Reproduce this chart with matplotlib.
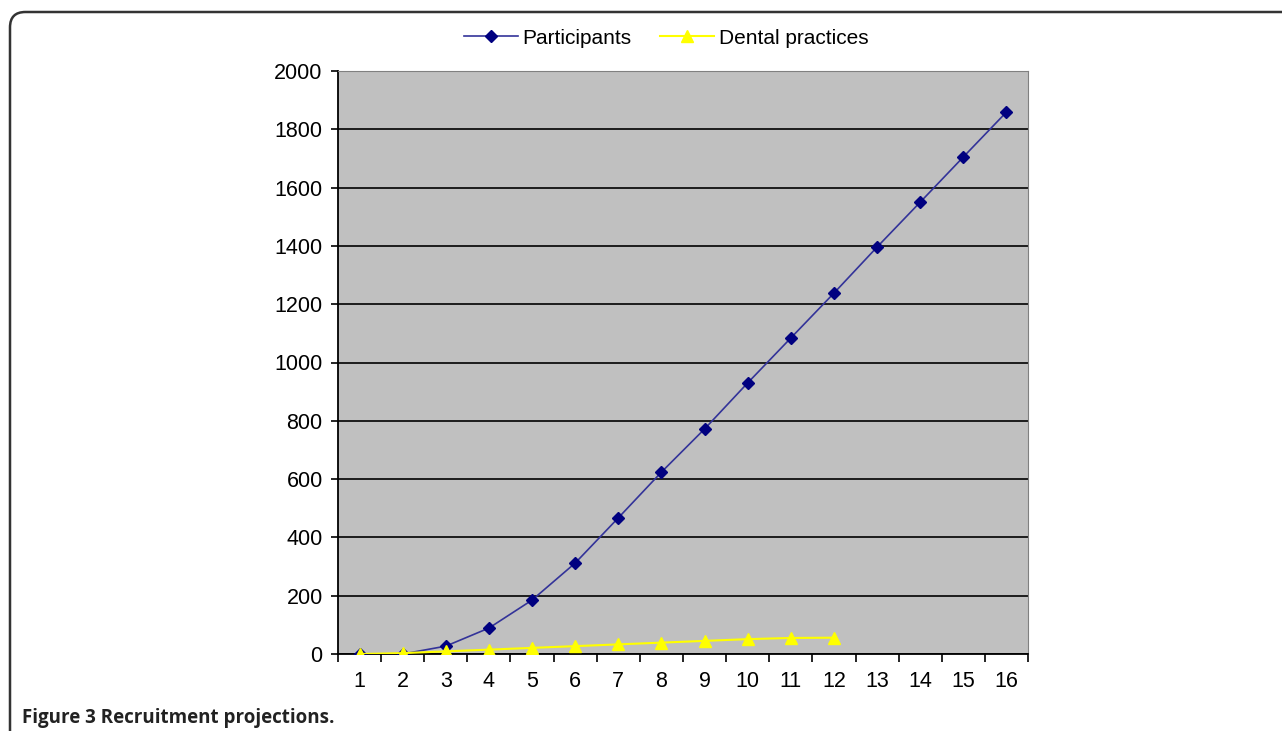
import matplotlib
matplotlib.use("Agg")
import matplotlib.pyplot as plt
from matplotlib.patches import FancyBboxPatch
from matplotlib.ticker import FixedLocator, NullFormatter

months = list(range(1, 17))
participants = [0, 0, 27, 89, 185, 312, 467, 624, 772, 930, 1084, 1238, 1396, 1550, 1705, 1859]
practice_months = list(range(1, 13))
practices = [0, 3, 9, 15, 21, 27, 33, 39, 45, 51, 55, 56]

plt.rcParams['font.family'] = ['Liberation Sans', 'DejaVu Sans']

fig = plt.figure(figsize=(12.82, 7.31), dpi=100)

# rounded frame around the figure
frame = FancyBboxPatch((10 / 1282, -0.1), 1.2, (731 - 12) / 731 + 0.1,
                       boxstyle="round,pad=0,rounding_size=0.012",
                       transform=fig.transFigure, fill=False,
                       edgecolor='#333333', linewidth=1.8, mutation_aspect=1282 / 731)
fig.patches.append(frame)

ax = fig.add_axes([338 / 1282, 1 - 654 / 731, 690 / 1282, 583 / 731])
ax.set_facecolor('#C0C0C0')

ax.plot(months, participants, color='#333399', linewidth=1.2, marker='D',
        markersize=6.5, markerfacecolor='#000080', markeredgecolor='#000080',
        label='Participants', zorder=3)
ax.plot(practice_months, practices, color='#FFFF00', linewidth=1.5, marker='^',
        markersize=9, markerfacecolor='#FFFF00', markeredgecolor='#FFFF00',
        label='Dental practices', zorder=3)

ax.set_xlim(0.5, 16.5)
ax.set_ylim(0, 2000)
ax.set_yticks(range(0, 2001, 200))
ax.yaxis.grid(True, color='black', linewidth=1.2)
ax.set_axisbelow(True)

ax.xaxis.set_major_locator(FixedLocator([m + 0.5 for m in range(0, 17)]))
ax.xaxis.set_major_formatter(NullFormatter())
ax.xaxis.set_minor_locator(FixedLocator(months))
ax.set_xticklabels([str(m) for m in months], minor=True)
ax.tick_params(axis='x', which='major', length=6, width=1.2, color='black')
ax.tick_params(axis='x', which='minor', length=0, labelsize=15.5, pad=12)
ax.tick_params(axis='y', length=5, width=1.2, color='black', labelsize=15.5, pad=6)

for side in ['top', 'right']:
    ax.spines[side].set_color('#808080')
for side in ['left', 'bottom']:
    ax.spines[side].set_color('black')
    ax.spines[side].set_linewidth(1.3)

fig.legend(loc='center', bbox_to_anchor=(666 / 1282, 1 - 38 / 731), ncol=2,
           frameon=False, fontsize=15, handlelength=2.6, columnspacing=1.4,
           handletextpad=0.2)

fig.text(22 / 1282, 1 - 718 / 731, 'Figure 3 Recruitment projections.',
         fontsize=13.5, fontweight='bold', family=['Open Sans', 'DejaVu Sans'],
         color='#222222', va='center', ha='left')

fig.savefig('out.png', dpi=100)
